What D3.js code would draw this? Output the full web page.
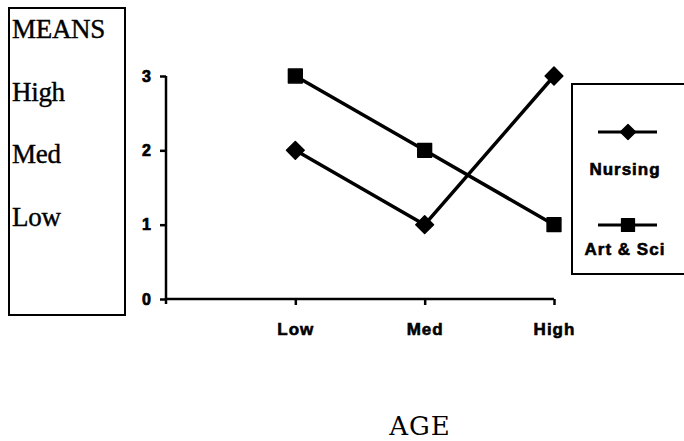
<!DOCTYPE html>
<html>
<head>
<meta charset="utf-8">
<script src="https://cdn.jsdelivr.net/npm/d3@7"></script>
<style>
  html, body { margin: 0; padding: 0; background: #fff; }
  svg { display: block; }
</style>
</head>
<body>
<svg id="chart" width="684" height="441"></svg>
<script>
// Age groups along the x axis
const categories = ["Low", "Med", "High"];
// Mean score for each series by age group
const nursing = [2, 1, 3];
const artSci = [3, 2, 1];
// Y axis ticks
const yTicks = [0, 1, 2, 3];
// Labels of the mean scale, listed in the box at left
const meanLabels = ["MEANS", "High", "Med", "Low"];
const seriesNames = ["Nursing", "Art & Sci"];

const svg = d3.select("#chart");
const ink = "#000";
const sans = "'Liberation Sans', Arial, sans-serif";

// Scales: category i sits at position i + 1 on a 0..3 axis
const x = d3.scaleLinear().domain([0, categories.length]).range([166, 554]);
const y = d3.scaleLinear().domain([0, 3]).range([299, 76]);

// Box with the mean scale labels
svg.append("rect")
  .attr("x", 9).attr("y", 8).attr("width", 116).attr("height", 307)
  .attr("fill", "none").attr("stroke", ink).attr("stroke-width", 2);

svg.append("g")
  .selectAll("text")
  .data(meanLabels)
  .join("text")
  .attr("x", 12)
  .attr("y", (d, i) => 38 + i * 62.5)
  .attr("font-family", "'Liberation Serif', 'Times New Roman', serif")
  .attr("font-size", 27)
  .attr("letter-spacing", -0.3)
  .attr("fill", ink)
  .attr("stroke", ink)
  .attr("stroke-width", 0.4)
  .text(d => d);

// Y axis
const yAxis = svg.append("g")
  .attr("transform", `translate(${x(0)},0)`)
  .call(d3.axisLeft(y).tickValues(yTicks).tickFormat(d3.format("d")).tickSize(6).tickPadding(9));
yAxis.select(".domain").attr("d", `M0,${y(3)}V${y(0) + 5}`).attr("stroke", ink).attr("stroke-width", 2.5);
yAxis.selectAll(".tick line").attr("stroke", ink).attr("stroke-width", 2.5);
yAxis.selectAll(".tick text")
  .attr("font-family", sans)
  .attr("font-weight", "bold")
  .attr("font-size", 16)
  .attr("fill", ink)
  .attr("stroke", ink)
  .attr("stroke-width", 0.7);

// X axis
const xAxis = svg.append("g")
  .attr("transform", `translate(0,${y(0)})`)
  .call(d3.axisBottom(x)
    .tickValues(categories.map((d, i) => i + 1))
    .tickFormat(v => categories[v - 1])
    .tickSize(6).tickPadding(18));
xAxis.select(".domain").attr("d", `M${x(0)},0H${x(categories.length)}`).attr("stroke", ink).attr("stroke-width", 2.5);
xAxis.selectAll(".tick line").attr("stroke", ink).attr("stroke-width", 2.5);
xAxis.selectAll(".tick text")
  .attr("font-family", sans)
  .attr("font-weight", "bold")
  .attr("font-size", 17)
  .attr("letter-spacing", 1)
  .attr("fill", ink)
  .attr("stroke", ink)
  .attr("stroke-width", 0.6);

// Series lines and markers
const line = d3.line().x((d, i) => x(i + 1)).y(d => y(d));
const diamond = d3.symbol().type(d3.symbolDiamond2).size(200);
const square = d3.symbol().type(d3.symbolSquare).size(190);

const series = [
  { name: seriesNames[0], values: nursing, symbol: diamond, key: d3.symbol().type(d3.symbolDiamond2).size(150) },
  { name: seriesNames[1], values: artSci, symbol: square, key: d3.symbol().type(d3.symbolSquare).size(170) }
];

series.forEach(s => {
  svg.append("path")
    .datum(s.values)
    .attr("d", line)
    .attr("fill", "none")
    .attr("stroke", ink)
    .attr("stroke-width", 3.5)
    .attr("stroke-linejoin", "round");
  svg.append("g")
    .selectAll("path")
    .data(s.values)
    .join("path")
    .attr("transform", (d, i) => `translate(${x(i + 1)},${y(d)})`)
    .attr("d", s.symbol)
    .attr("fill", ink)
    .attr("stroke", ink)
    .attr("stroke-width", 1.5)
    .attr("stroke-linejoin", "round");
});

// Legend
svg.append("rect")
  .attr("x", 572).attr("y", 84).attr("width", 130).attr("height", 190)
  .attr("fill", "#fff").attr("stroke", ink).attr("stroke-width", 2);

const keyY = [132, 225];
const labelY = [175, 255];

const legend = svg.append("g")
  .selectAll("g")
  .data(series)
  .join("g");

legend.append("line")
  .attr("x1", 598).attr("x2", 657)
  .attr("y1", (d, i) => keyY[i]).attr("y2", (d, i) => keyY[i])
  .attr("stroke", ink).attr("stroke-width", 3);
legend.append("path")
  .attr("transform", (d, i) => `translate(628,${keyY[i]})`)
  .attr("d", d => d.key())
  .attr("fill", ink)
  .attr("stroke", ink)
  .attr("stroke-width", 1.2)
  .attr("stroke-linejoin", "round");
legend.append("text")
  .attr("x", 625).attr("y", (d, i) => labelY[i])
  .attr("text-anchor", "middle")
  .attr("font-family", sans)
  .attr("font-weight", "bold")
  .attr("font-size", 17)
  .attr("letter-spacing", 1)
  .attr("fill", ink)
  .attr("stroke", ink)
  .attr("stroke-width", 0.6)
  .text(d => d.name);

// X axis title
svg.append("text")
  .attr("x", 420).attr("y", 435)
  .attr("text-anchor", "middle")
  .attr("font-family", "'DejaVu Serif', serif")
  .attr("font-size", 26)
  .attr("letter-spacing", 1)
  .attr("fill", ink)
  .text("AGE");
</script>
</body>
</html>
